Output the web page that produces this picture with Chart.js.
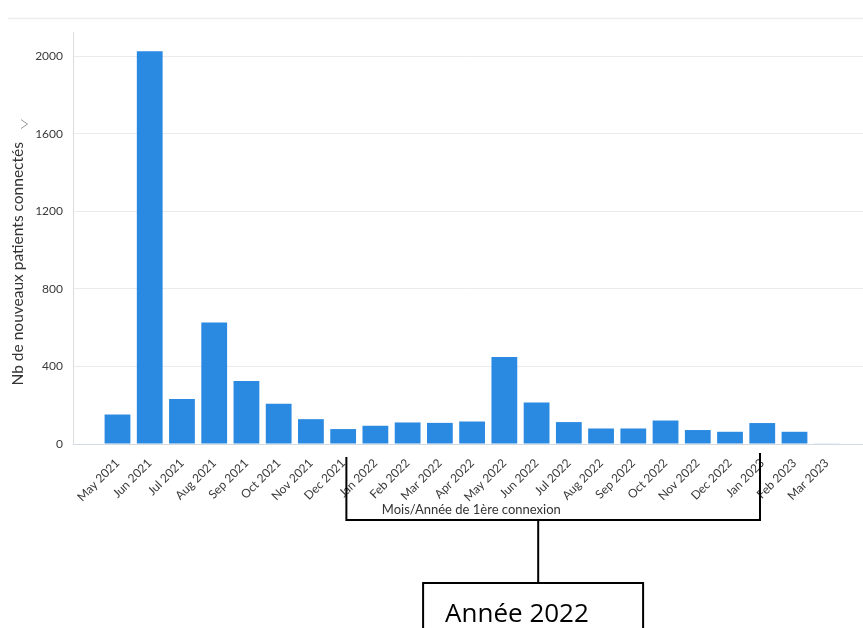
<!DOCTYPE html>
<html>
<head>
<meta charset="utf-8">
<script src="https://cdn.jsdelivr.net/npm/chart.js@4.4.1/dist/chart.umd.min.js"></script>
<style>
html,body{margin:0;padding:0;background:#fff;}
#wrap{width:863px;height:628px;position:relative;}
canvas{display:block;}
</style>
</head>
<body>
<div id="wrap"><canvas id="c" width="863" height="628"></canvas></div>
<script>
const categories = ['May 2021','Jun 2021','Jul 2021','Aug 2021','Sep 2021','Oct 2021','Nov 2021','Dec 2021',
  'Jan 2022','Feb 2022','Mar 2022','Apr 2022','May 2022','Jun 2022','Jul 2022','Aug 2022','Sep 2022',
  'Oct 2022','Nov 2022','Dec 2022','Jan 2023','Feb 2023','Mar 2023'];
const newPatients = [152,2025,232,627,325,207,128,77,94,111,109,116,448,214,113,80,80,121,72,63,108,63,2];
const yTicks = [0,400,800,1200,1600,2000];
const yAxisTitle = 'Nb de nouveaux patients connectés';
const xAxisTitle = 'Mois/Année de 1ère connexion';
const bracketLabel = 'Année 2022';
// bracket ends / stem, expressed on the category index scale
const bracketFrom = 7.1, bracketTo = 19.93, bracketStem = 13.05;

const points = categories.map((c, i) => ({x: i, y: newPatients[i]}));
const yTitlePad = '\u00a0'.repeat(13);

const overlay = {
  id: 'overlay',
  afterDraw(chart) {
    const {ctx, scales: {x}, chartArea} = chart;
    ctx.save();
    // header separator
    ctx.strokeStyle = '#ececec';
    ctx.lineWidth = 1.5;
    ctx.beginPath(); ctx.moveTo(8, 18.5); ctx.lineTo(863, 18.5); ctx.stroke();
    // bracket
    const b = chartArea.bottom;
    const xl = x.getPixelForValue(bracketFrom), xr = x.getPixelForValue(bracketTo), xm = x.getPixelForValue(bracketStem);
    ctx.strokeStyle = '#000';
    ctx.lineWidth = 2;
    ctx.beginPath();
    ctx.moveTo(xl, b + 13); ctx.lineTo(xl, b + 76); ctx.lineTo(xr, b + 76); ctx.lineTo(xr, b + 9);
    ctx.moveTo(xm, b + 76); ctx.lineTo(xm, b + 139);
    ctx.stroke();
    const bx = x.getPixelForValue(bracketStem - 3.57), bw = 220;
    ctx.fillStyle = '#fff';
    ctx.fillRect(bx, b + 139, bw, 60);
    ctx.strokeRect(bx, b + 139, bw, 60);
    ctx.fillStyle = '#000';
    ctx.font = '26px "Open Sans"';
    ctx.textBaseline = 'alphabetic';
    ctx.textAlign = 'left';
    ctx.fillText(bracketLabel, bx + 22, b + 178);
    ctx.restore();
  }
};

// dropdown chevron next to the y title
const chevron = {
  id: 'chevron',
  afterDraw(chart) {
    const {ctx, scales: {y}} = chart;
    const f = y.options.title.font;
    ctx.save();
    ctx.font = `${f.size}px Lato`;
    const full = ctx.measureText(yAxisTitle + yTitlePad).width;
    const txt = ctx.measureText(yAxisTitle).width;
    const midY = (y.top + y.bottom) / 2;
    const textTop = midY + full / 2 - txt;
    const cy = textTop - 18;
    ctx.strokeStyle = '#999';
    ctx.lineWidth = 1;
    ctx.beginPath();
    ctx.moveTo(21, cy - 4.5); ctx.lineTo(27.5, cy); ctx.lineTo(21, cy + 4.5);
    ctx.stroke();
    ctx.restore();
  }
};

new Chart(document.getElementById('c'), {
  type: 'bar',
  data: {
    datasets: [{
      data: points,
      backgroundColor: '#2a89e1',
      borderWidth: 0,
      barPercentage: 0.8,
      categoryPercentage: 1
    }]
  },
  options: {
    responsive: false,
    animation: false,
    devicePixelRatio: 1,
    layout: {padding: {top: 32, left: 0, right: 0, bottom: 100}},
    plugins: {legend: {display: false}, tooltip: {enabled: false}},
    scales: {
      x: {
        type: 'linear',
        min: -1.38,
        max: 23.125,
        offset: false,
        grid: {display: false},
        border: {display: true, color: '#d3dae2', width: 1},
        afterBuildTicks: (s) => { s.ticks = categories.map((c, i) => ({value: i})); },
        ticks: {
          autoSkip: false, minRotation: 45, maxRotation: 45, padding: 4,
          font: {family: 'Lato', size: 12}, color: '#3a3a3a',
          callback: (v) => categories[v] ?? ''
        },
        title: {display: true, text: '\u00a0\u00a0' + xAxisTitle, font: {family: 'Lato', size: 13}, color: '#333', padding: {top: 0, bottom: 10}},
        afterFit: (s) => { s.height = 84; }
      },
      y: {
        min: 0,
        max: 2124,
        afterBuildTicks: (s) => { s.ticks = yTicks.map(v => ({value: v})); },
        grid: {color: '#ebebeb', drawTicks: false},
        border: {color: '#dcdcdc'},
        ticks: {padding: 10, font: {family: 'Lato', size: 12}, color: '#3a3a3a', callback: (v) => String(v)},
        title: {display: true, text: yAxisTitle + yTitlePad, font: {family: 'Lato', size: 15.5}, color: '#333', padding: {top: 8.5, bottom: 0}},
        afterFit: (s) => { s.width = 73; }
      }
    }
  },
  plugins: [overlay, chevron]
});
</script>
</body>
</html>
